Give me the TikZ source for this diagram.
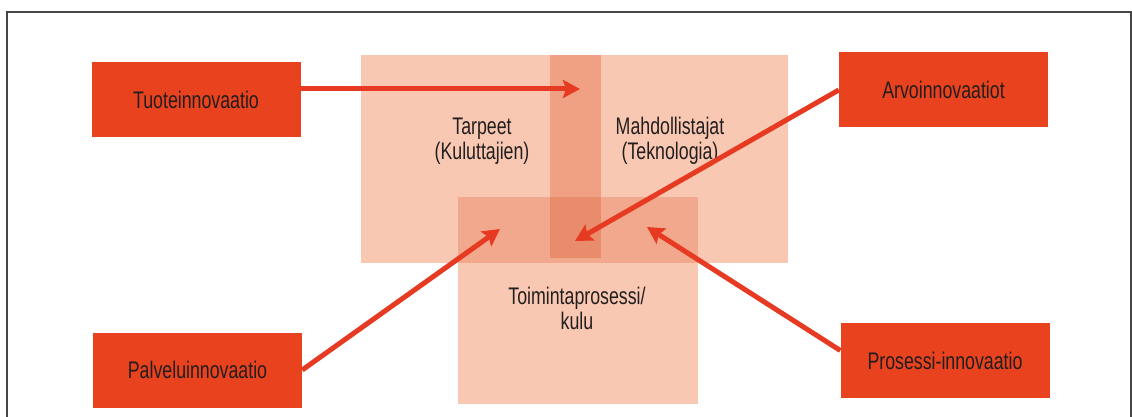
\documentclass[tikz,border=0pt]{standalone}
\usepackage{fontspec}
\setmainfont[FakeStretch=0.74]{Liberation Sans}
\usetikzlibrary{arrows.meta}
\definecolor{boxred}{RGB}{233,66,30}
\definecolor{arrred}{RGB}{230,58,34}
\definecolor{pinkA}{RGB}{249,200,179}
\definecolor{pinkB}{RGB}{242,168,140}
\definecolor{pinkC}{RGB}{240,161,132}
\definecolor{pinkD}{RGB}{233,140,108}
\definecolor{txt}{RGB}{35,30,30}
\definecolor{frame}{RGB}{70,70,70}
\tikzset{
  redbox/.style={fill=boxred, draw=none, minimum width=209pt, minimum height=75pt,
    text=txt, font=\fontsize{24}{26}\selectfont, inner sep=0pt},
  lbl/.style={text=txt, align=center, font=\fontsize{24}{25}\selectfont, inner sep=0pt},
  arr/.style={draw=arrred, line width=5pt, -{Stealth[length=17pt,width=18pt,inset=3pt]}}
}
\begin{document}
\begin{tikzpicture}[x=1pt,y=-1pt]
\useasboundingbox (0,0) rectangle (1132,417);
\fill[white] (0,0) rectangle (1132,417);
% frame
\draw[frame, line width=2pt] (6.5,417) -- (6.5,12.5) -- (1130.5,12.5) -- (1130.5,417);
% pink areas
\fill[pinkA] (361,55) rectangle (788,263);
\fill[pinkA] (458,197) rectangle (698,404);
\fill[pinkB] (458,197) rectangle (698,263);
\fill[pinkC] (550,55) rectangle (601,197);
\fill[pinkD] (550,197) rectangle (601,258);
% labels
\node[lbl] (tarpeet) at (482,141) {Tarpeet\\(Kuluttajien)};
\node[lbl] (mahd) at (670,141) {Mahdollistajat\\(Teknologia)};
\node[lbl] (toim) at (577,308) {Toimintaprosessi/\\kulu};
% red boxes
\node[redbox] (tuote) at (196,99.5) {Tuoteinnovaatio};
\node[redbox] (palvelu) at (197.5,370) {Palveluinnovaatio};
\node[redbox] (arvo) at (943.5,90) {Arvoinnovaatiot};
\node[redbox] (prosessi) at (945,360.5) {Prosessi-innovaatio};
% arrow tips
\coordinate (t1) at (580,89);
\coordinate (t2) at (575,241);
\coordinate (t3) at (500,229);
\coordinate (t4) at (647,227);
% arrows
\draw[arr] ([yshift=10.5pt]tuote.east) -- (t1);
\draw[arr] (arvo.west) -- (t2);
\draw[arr] (palvelu.east) -- (t3);
\draw[arr] ([yshift=10pt]prosessi.west) -- (t4);
\end{tikzpicture}
\end{document}
